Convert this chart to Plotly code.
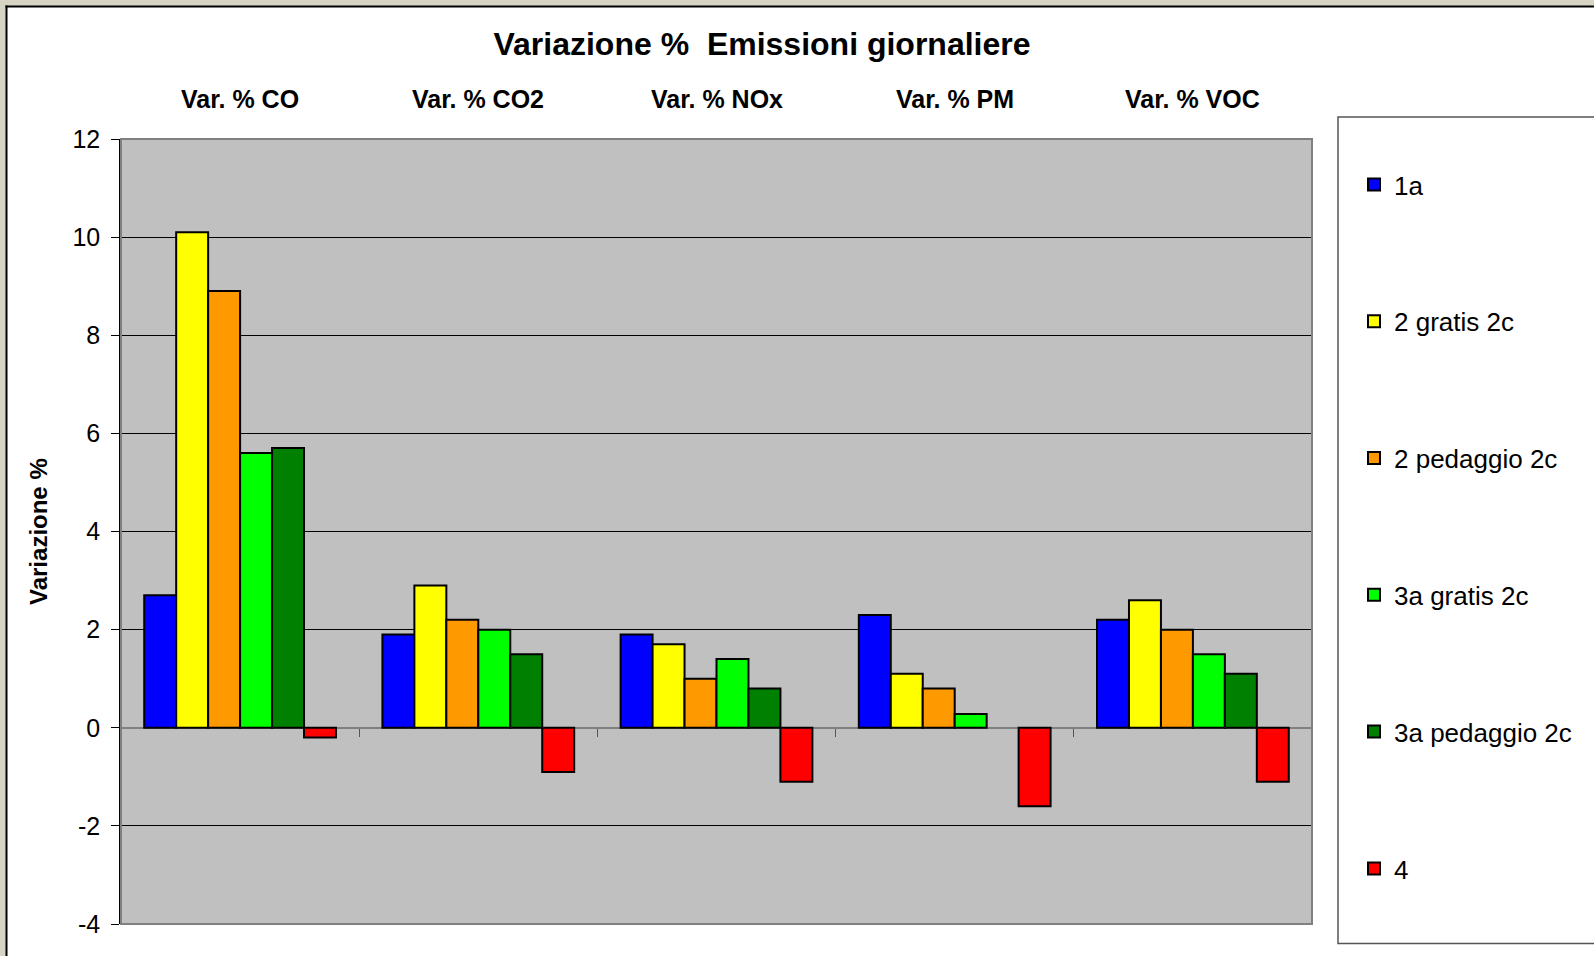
import plotly.graph_objects as go

# ---- data ----
categories = ["Var. % CO", "Var. % CO2", "Var. % NOx", "Var. % PM", "Var. % VOC"]
series_names = ["1a", "2 gratis 2c", "2 pedaggio 2c", "3a gratis 2c", "3a pedaggio 2c", "4"]
s_1a = [2.7, 1.9, 1.9, 2.3, 2.2]
s_2_gratis = [10.1, 2.9, 1.7, 1.1, 2.6]
s_2_pedaggio = [8.9, 2.2, 1.0, 0.8, 2.0]
s_3a_gratis = [5.6, 2.0, 1.4, 0.28, 1.5]
s_3a_pedaggio = [5.7, 1.5, 0.8, None, 1.1]
s_4 = [-0.2, -0.9, -1.1, -1.6, -1.1]
y_ticks = [-4, -2, 0, 2, 4, 6, 8, 10, 12]
y_tick_labels = ["-4", "-2", "0", "2", "4", "6", "8", "10", "12"]

series_values = [s_1a, s_2_gratis, s_2_pedaggio, s_3a_gratis, s_3a_pedaggio, s_4]
colors = ["#0000FF", "#FFFF00", "#FF9900", "#00FF00", "#008000", "#FF0000"]

W, H = 1594, 956
L, R, T, B = 121, 1312, 139, 924  # plot area in px
FONT = "Liberation Sans, Arial, sans-serif"


def px_x(p):
    return (p - L) / (R - L)


def px_y(p):
    return (B - p) / (B - T)


fig = go.Figure()
for i, (name, vals, col) in enumerate(zip(series_names, series_values, colors)):
    fig.add_trace(go.Bar(
        x=categories, y=vals, name=name,
        marker=dict(color=col, line=dict(color="#000000", width=2)),
        legendgroup=f"g{i}",
    ))

shapes = [
    # beige outer strips
    dict(type="rect", xref="paper", yref="paper", x0=px_x(-5), x1=px_x(6), y0=px_y(1000), y1=px_y(-5),
         fillcolor="#D8D4C4", line=dict(width=0), layer="below"),
    dict(type="rect", xref="paper", yref="paper", x0=px_x(-5), x1=px_x(1700), y0=px_y(6), y1=px_y(-5),
         fillcolor="#D8D4C4", line=dict(width=0), layer="below"),
    # black frame lines
    dict(type="line", xref="paper", yref="paper", x0=px_x(6.5), x1=px_x(6.5), y0=px_y(1000), y1=px_y(5.5),
         line=dict(color="#000000", width=2)),
    dict(type="line", xref="paper", yref="paper", x0=px_x(5.5), x1=px_x(1700), y0=px_y(6.5), y1=px_y(6.5),
         line=dict(color="#000000", width=2)),
    # plot area border
    dict(type="rect", xref="paper", yref="paper", x0=0, x1=1, y0=0, y1=1,
         line=dict(color="#808080", width=2), fillcolor="rgba(0,0,0,0)"),
    # legend box
    dict(type="rect", xref="paper", yref="paper", x0=px_x(1338), x1=px_x(1700), y0=px_y(943.5), y1=px_y(117),
         line=dict(color="#555555", width=1.5), fillcolor="#FFFFFF", layer="below"),
]

annotations = [
    dict(text=f"<b>{c}</b>", x=c, xref="x", y=px_y(99), yref="paper", showarrow=False,
         xanchor="center", yanchor="middle", font=dict(family=FONT, size=25, color="#000000"))
    for c in categories
]
annotations.append(dict(text="<b>Variazione %</b>", x=px_x(38), xref="paper", y=px_y(532), yref="paper",
                        showarrow=False, textangle=-90, xanchor="center", yanchor="middle",
                        font=dict(family=FONT, size=24, color="#000000")))

fig.update_layout(
    width=W, height=H,
    margin=dict(l=L, r=W - R, t=T, b=H - B, pad=0),
    paper_bgcolor="#FFFFFF",
    plot_bgcolor="#C0C0C0",
    barmode="group", bargap=0.195, bargroupgap=0,
    title=dict(text="<b>Variazione %  Emissioni giornaliere</b>", x=762 / W, xanchor="center",
               y=1 - 44 / H, yanchor="middle", font=dict(family=FONT, size=32, color="#000000")),
    font=dict(family=FONT, color="#000000"),
    xaxis=dict(range=[-0.5, 4.5], anchor="free", position=px_y(727.7), showticklabels=False,
               ticks="outside", tickson="boundaries", ticklen=8, tickcolor="#555555", tickwidth=1,
               showgrid=False, showline=False, zeroline=False, fixedrange=True),
    yaxis=dict(range=[-4, 12], tickvals=y_ticks, ticktext=y_tick_labels, ticks="outside", ticklen=8,
               tickcolor="#000000", ticklabelstandoff=6,
               tickfont=dict(family=FONT, size=25, color="#000000"), showgrid=True, gridcolor="#000000",
               gridwidth=1, zeroline=True, zerolinecolor="#808080", zerolinewidth=2,
               showline=True, linecolor="#000000", linewidth=1.5),
    legend=dict(x=px_x(1354), xanchor="left", y=px_y(161), yanchor="top", bgcolor="rgba(0,0,0,0)",
                borderwidth=0, font=dict(family=FONT, size=26, color="#000000"), tracegroupgap=100,
                traceorder="grouped"),
    shapes=shapes,
    annotations=annotations,
    showlegend=True,
)

fig.write_html("out.html", config={"displayModeBar": False},
               post_script="document.body.style.margin='0';document.body.style.overflow='hidden';")
